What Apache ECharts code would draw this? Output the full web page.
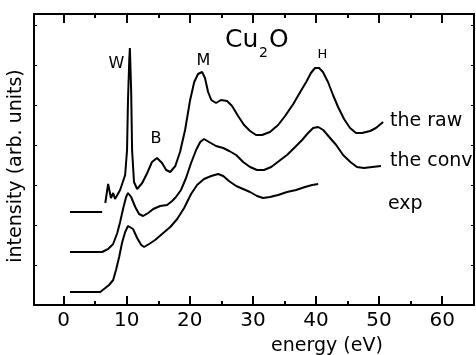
<!DOCTYPE html>
<html>
<head>
<meta charset="utf-8">
<script src="https://cdn.jsdelivr.net/npm/echarts@6/dist/echarts.min.js"></script>
<style>
  html, body { margin: 0; padding: 0; background: #fff; }
  #chart { width: 476px; height: 355px; }
</style>
</head>
<body>
<div id="chart"></div>
<script>
// Energy tick marks (eV)
const energyTicks = [0, 10, 20, 30, 40, 50, 60];
const energyMinorTicks = [5, 15, 25, 35, 45, 55];

// Theory, raw (null marks a break in the trace)
const rawE = [1.0, 6.1, null, 6.6, 7.05, 7.5, 7.85, 8.15, 8.95, 9.75, 10.05, 10.2, 10.4, 10.5, 10.7, 10.85, 11.15, 11.65, 12.45, 13.25, 14.0, 14.8, 15.6, 16.25, 16.9, 17.7, 18.45, 19.25, 20.05, 20.7, 21.3, 21.95, 22.4, 22.9, 23.4, 24.15, 24.95, 25.9, 26.7, 27.65, 28.6, 29.55, 30.5, 31.45, 32.7, 34.0, 35.1, 36.4, 37.5, 38.45, 39.2, 39.85, 40.5, 41.1, 41.9, 42.7, 43.5, 44.45, 45.4, 46.35, 47.3, 48.6, 49.5, 50.65];
const rawI = [93, 93, null, 102, 121, 107, 112, 106, 115, 130, 155, 205, 245, 257, 215, 155, 123, 116, 122, 132, 143, 147, 142, 135, 133, 139, 153, 175, 205, 223, 231, 233, 227, 213, 205, 202, 205, 204, 199, 189, 180, 174, 170, 170, 173, 180, 189, 201, 213, 223, 232, 237, 237, 233, 223, 210, 198, 186, 177, 172, 172, 174, 177, 183];

// Theory, convoluted
const convE = [1.0, 6.1, 7.05, 7.85, 8.5, 8.95, 9.45, 9.9, 10.2, 10.7, 11.35, 11.95, 12.6, 13.4, 14.2, 15.3, 16.4, 17.2, 17.8, 18.6, 19.4, 20.2, 21.0, 21.65, 22.25, 23.05, 24.15, 25.3, 26.25, 27.35, 28.45, 29.55, 30.65, 31.75, 32.9, 34.15, 35.4, 36.7, 37.8, 38.75, 39.55, 40.35, 41.15, 42.1, 43.2, 44.3, 45.45, 46.5, 47.6, 48.9, 50.3];
const convI = [53, 53, 56, 61, 72, 83, 97, 108, 112, 108, 98, 91, 89, 92, 96, 99, 100, 104, 108, 115, 127, 142, 155, 163, 166, 163, 159, 157, 154, 150, 143, 138, 135, 135, 138, 144, 150, 158, 165, 172, 177, 178, 175, 168, 160, 150, 143, 138, 137, 138, 139];

// Experiment
const expE = [1.0, 5.8, 6.4, 7.2, 7.85, 8.3, 8.8, 9.25, 9.75, 10.2, 10.5, 11.0, 11.65, 12.3, 12.75, 13.55, 14.5, 15.6, 16.9, 18.0, 19.1, 20.2, 21.15, 22.25, 23.4, 24.5, 25.3, 26.2, 27.35, 28.45, 29.55, 30.65, 31.6, 32.7, 34.0, 35.4, 36.85, 38.25, 39.4, 40.35];
const expI = [13, 13, 16, 20, 25, 35, 48, 62, 73, 79, 80, 76, 67, 60, 58, 61, 65, 71, 78, 86, 97, 111, 120, 126, 129, 131, 129, 124, 119, 116, 113, 109, 107, 108, 110, 113, 115, 118, 120, 121];

const FONT = 'DejaVu Sans';
const INK = '#000';

function pairs(xs, ys) {
  return xs.map((x, i) => (x === null || ys[i] === null) ? ['-', '-'] : [x, ys[i]]);
}

function curve(name, xs, ys) {
  return {
    name, type: 'line', xAxisIndex: 0, yAxisIndex: 0,
    data: pairs(xs, ys), symbol: 'none', connectNulls: false,
    lineStyle: { color: INK, width: 2 }, silent: true, animation: false
  };
}

const X_MIN = -4.7, X_MAX = 65.05;

function energyAxis(position, values, tickLen, withLine, withLabels) {
  return {
    type: 'value', position, min: X_MIN, max: X_MAX,
    axisLine: { show: withLine, onZero: false, lineStyle: { color: INK, width: 2 } },
    axisTick: { show: true, inside: true, length: tickLen, customValues: values, lineStyle: { color: INK, width: 2 } },
    axisLabel: withLabels
      ? { show: true, customValues: values, color: INK, fontFamily: FONT, fontSize: 20, margin: 6 }
      : { show: false },
    splitLine: { show: false }
  };
}

function intensityAxis(position) {
  return {
    type: 'value', position, min: 0, max: 291, interval: 40,
    axisLine: { show: true, onZero: false, lineStyle: { color: INK, width: 2 } },
    axisTick: { show: true, inside: true, length: 3, lineStyle: { color: INK, width: 1 } },
    axisLabel: { show: false },
    splitLine: { show: false }
  };
}

function label(text, x, y, size, extra) {
  return Object.assign({
    type: 'text', x, y, silent: true,
    style: { text, fill: INK, font: size + 'px "' + FONT + '"', align: 'center', verticalAlign: 'middle' }
  }, extra || {});
}

const chart = echarts.init(document.getElementById('chart'), null, { renderer: 'canvas' });
chart.setOption({
  backgroundColor: '#fff',
  animation: false,
  grid: { left: 34, right: 2, top: 14, bottom: 50 },
  xAxis: [
    energyAxis('bottom', energyTicks, 9, true, true),
    energyAxis('bottom', energyMinorTicks, 4, false, false),
    energyAxis('top', energyTicks, 9, true, false),
    energyAxis('top', energyMinorTicks, 4, false, false)
  ],
  yAxis: [intensityAxis('left'), intensityAxis('right')],
  series: [
    curve('the raw', rawE, rawI),
    curve('the conv', convE, convI),
    curve('exp', expE, expI)
  ],
  graphic: [
    // Title: Cu2O with subscript
    { type: 'text', x: 225, y: 40, silent: true, style: { text: 'Cu', fill: INK, font: '25px "' + FONT + '"', align: 'left', verticalAlign: 'middle' } },
    { type: 'text', x: 259, y: 53, silent: true, style: { text: '2', fill: INK, font: '14px "' + FONT + '"', align: 'left', verticalAlign: 'middle' } },
    { type: 'text', x: 269, y: 40, silent: true, style: { text: 'O', fill: INK, font: '25px "' + FONT + '"', align: 'left', verticalAlign: 'middle' } },
    // Peak labels
    label('W', 116.5, 64, 16),
    label('M', 203.5, 61, 16),
    label('B', 156, 139, 16),
    label('H', 322.5, 55, 13),
    // Curve names
    { type: 'text', x: 390, y: 121, silent: true, style: { text: 'the raw', fill: INK, font: '19px "' + FONT + '"', align: 'left', verticalAlign: 'middle' } },
    { type: 'text', x: 390, y: 161, silent: true, style: { text: 'the conv', fill: INK, font: '19px "' + FONT + '"', align: 'left', verticalAlign: 'middle' } },
    { type: 'text', x: 388, y: 204, silent: true, style: { text: 'exp', fill: INK, font: '19px "' + FONT + '"', align: 'left', verticalAlign: 'middle' } },
    // Axis titles
    label('energy (eV)', 327, 346, 19),
    label('intensity (arb. units)', 16, 166, 19, { rotation: Math.PI / 2 })
  ]
});
</script>
</body>
</html>
